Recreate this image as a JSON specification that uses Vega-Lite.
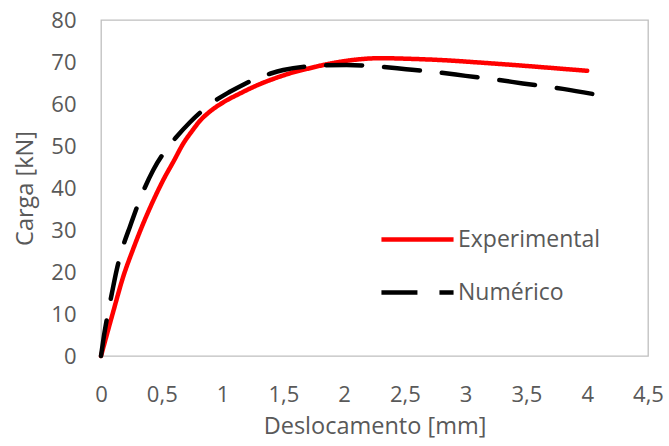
{
  "$schema": "https://vega.github.io/schema/vega-lite/v6.json",
  "width": 547,
  "height": 336,
  "autosize": {"type": "none"},
  "padding": {"left": 101, "top": 20, "right": 21, "bottom": 90},
  "background": "white",
  "config": {
    "font": "Open Sans",
    "view": {"stroke": "#bfbfbf", "strokeWidth": 1.3},
    "axis": {
      "grid": false,
      "domain": false,
      "ticks": false,
      "labelFlush": false,
      "labelFont": "Open Sans",
      "labelFontSize": 22,
      "labelColor": "#595959",
      "titleFont": "Open Sans",
      "titleFontSize": 23.5,
      "titleFontWeight": "normal",
      "titleColor": "#595959"
    }
  },
  "data": {
    "values": [
      {"x": 0, "y": 0, "series": "Experimental"},
      {"x": 0.1, "y": 10.5, "series": "Experimental"},
      {"x": 0.183, "y": 18.9, "series": "Experimental"},
      {"x": 0.265, "y": 25.5, "series": "Experimental"},
      {"x": 0.348, "y": 31.6, "series": "Experimental"},
      {"x": 0.43, "y": 37.0, "series": "Experimental"},
      {"x": 0.512, "y": 41.9, "series": "Experimental"},
      {"x": 0.6, "y": 46.5, "series": "Experimental"},
      {"x": 0.677, "y": 50.6, "series": "Experimental"},
      {"x": 0.75, "y": 53.6, "series": "Experimental"},
      {"x": 0.814, "y": 56.0, "series": "Experimental"},
      {"x": 0.9, "y": 58.3, "series": "Experimental"},
      {"x": 1.006, "y": 60.4, "series": "Experimental"},
      {"x": 1.15, "y": 62.6, "series": "Experimental"},
      {"x": 1.28, "y": 64.4, "series": "Experimental"},
      {"x": 1.42, "y": 66.0, "series": "Experimental"},
      {"x": 1.554, "y": 67.3, "series": "Experimental"},
      {"x": 1.7, "y": 68.4, "series": "Experimental"},
      {"x": 1.883, "y": 69.6, "series": "Experimental"},
      {"x": 2.05, "y": 70.4, "series": "Experimental"},
      {"x": 2.294, "y": 70.9, "series": "Experimental"},
      {"x": 2.6, "y": 70.7, "series": "Experimental"},
      {"x": 2.84, "y": 70.4, "series": "Experimental"},
      {"x": 3.1, "y": 69.9, "series": "Experimental"},
      {"x": 3.39, "y": 69.3, "series": "Experimental"},
      {"x": 3.7, "y": 68.6, "series": "Experimental"},
      {"x": 4.0, "y": 67.9, "series": "Experimental"},
      {"x": 0, "y": 0, "series": "Numérico"},
      {"x": 0.02, "y": 4.0, "series": "Numérico"},
      {"x": 0.047, "y": 8.6, "series": "Numérico"},
      {"x": 0.09, "y": 15.0, "series": "Numérico"},
      {"x": 0.129, "y": 20.5, "series": "Numérico"},
      {"x": 0.18, "y": 26.0, "series": "Numérico"},
      {"x": 0.238, "y": 30.8, "series": "Numérico"},
      {"x": 0.33, "y": 38.0, "series": "Numérico"},
      {"x": 0.43, "y": 44.3, "series": "Numérico"},
      {"x": 0.52, "y": 48.5, "series": "Numérico"},
      {"x": 0.622, "y": 52.2, "series": "Numérico"},
      {"x": 0.73, "y": 55.6, "series": "Numérico"},
      {"x": 0.842, "y": 58.6, "series": "Numérico"},
      {"x": 0.95, "y": 61.0, "series": "Numérico"},
      {"x": 1.06, "y": 62.9, "series": "Numérico"},
      {"x": 1.17, "y": 64.6, "series": "Numérico"},
      {"x": 1.28, "y": 66.1, "series": "Numérico"},
      {"x": 1.39, "y": 67.2, "series": "Numérico"},
      {"x": 1.5, "y": 68.1, "series": "Numérico"},
      {"x": 1.72, "y": 69.0, "series": "Numérico"},
      {"x": 2.02, "y": 69.3, "series": "Numérico"},
      {"x": 2.25, "y": 69.0, "series": "Numérico"},
      {"x": 2.51, "y": 68.3, "series": "Numérico"},
      {"x": 2.75, "y": 67.6, "series": "Numérico"},
      {"x": 3.0, "y": 66.7, "series": "Numérico"},
      {"x": 3.25, "y": 65.8, "series": "Numérico"},
      {"x": 3.47, "y": 64.9, "series": "Numérico"},
      {"x": 3.8, "y": 63.6, "series": "Numérico"},
      {"x": 4.1, "y": 62.1, "series": "Numérico"}
    ]
  },
  "mark": {"type": "line", "interpolate": "monotone", "strokeWidth": 4.5, "strokeCap": "round", "strokeJoin": "round"},
  "encoding": {
    "x": {
      "field": "x",
      "type": "quantitative",
      "title": "Deslocamento [mm]",
      "scale": {"domain": [0, 4.5], "nice": false},
      "axis": {
        "values": [0, 0.5, 1, 1.5, 2, 2.5, 3, 3.5, 4, 4.5],
        "labelExpr": "replace(format(datum.value, '~g'), '.', ',')",
        "labelPadding": 28,
        "titlePadding": 9
      }
    },
    "y": {
      "field": "y",
      "type": "quantitative",
      "title": "Carga [kN]",
      "scale": {"domain": [0, 80], "nice": false},
      "axis": {
        "values": [0, 10, 20, 30, 40, 50, 60, 70, 80],
        "labelPadding": 25,
        "titlePadding": 13
      }
    },
    "color": {
      "field": "series",
      "type": "nominal",
      "scale": {"domain": ["Experimental", "Numérico"], "range": ["#ff0000", "#000000"]},
      "legend": {
        "title": null,
        "orient": "none",
        "legendX": 296,
        "legendY": 199,
        "symbolType": "M-2,0H2",
        "symbolSize": 1300,
        "symbolStrokeWidth": 4.5,
        "labelFont": "Open Sans",
        "labelFontSize": 23,
        "labelColor": "#595959",
        "labelOffset": 20,
        "rowPadding": 20
      }
    },
    "strokeDash": {
      "field": "series",
      "type": "nominal",
      "scale": {"domain": ["Experimental", "Numérico"], "range": [[1, 0], [36, 22]]},
      "legend": {
        "title": null,
        "orient": "none",
        "legendX": 296,
        "legendY": 199,
        "symbolType": "M-2,0H2",
        "symbolSize": 1300,
        "symbolStrokeWidth": 4.5,
        "labelFont": "Open Sans",
        "labelFontSize": 23,
        "labelColor": "#595959",
        "labelOffset": 20,
        "rowPadding": 20
      }
    }
  }
}
